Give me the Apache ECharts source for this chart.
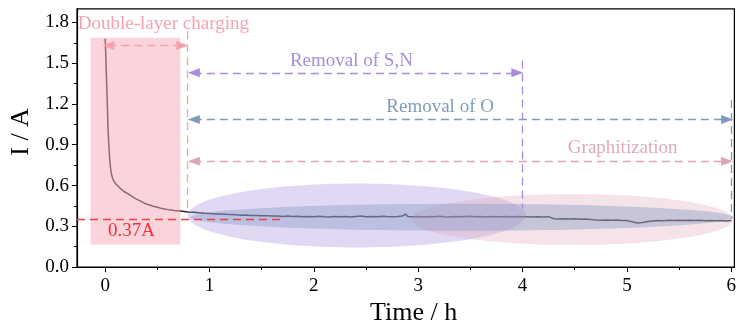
<!DOCTYPE html>
<html>
<head>
<meta charset="utf-8">
<script src="https://cdn.jsdelivr.net/npm/echarts@6/dist/echarts.min.js"></script>
<style>
  html, body { margin: 0; padding: 0; background: #fff; }
  #chart { width: 739px; height: 331px; }
</style>
</head>
<body>
<div id="chart"></div>
<script>
// current vs time
const timeH = [
  0.000, 0.005, 0.010, 0.015, 0.020, 0.026, 0.033, 0.042, 0.050, 0.058,
  0.070, 0.085, 0.100, 0.120, 0.150, 0.180, 0.216, 0.260, 0.300, 0.340,
  0.376, 0.420, 0.460, 0.500, 0.535, 0.580, 0.620, 0.660, 0.694, 0.740,
  0.790, 0.85, 0.90, 0.95, 1.00, 1.05, 1.10, 1.15, 1.20, 1.25,
  1.30, 1.35, 1.40, 1.45, 1.50, 1.55, 1.60, 1.65, 1.70, 1.75,
  1.80, 1.85, 1.90, 1.95, 2.00, 2.05, 2.10, 2.15, 2.20, 2.25,
  2.30, 2.35, 2.40, 2.45, 2.50, 2.55, 2.60, 2.65, 2.70, 2.75,
  2.80, 2.85, 2.88, 2.90, 2.95, 3.00, 3.05, 3.10, 3.15, 3.20,
  3.25, 3.30, 3.35, 3.40, 3.45, 3.50, 3.55, 3.60, 3.65, 3.70,
  3.75, 3.80, 3.85, 3.90, 3.95, 4.00, 4.05, 4.10, 4.15, 4.20,
  4.25, 4.30, 4.35, 4.40, 4.45, 4.50, 4.55, 4.60, 4.65, 4.70,
  4.75, 4.80, 4.85, 4.90, 4.95, 5.00, 5.05, 5.10, 5.15, 5.20,
  5.25, 5.30, 5.35, 5.40, 5.45, 5.50, 5.55, 5.60, 5.65, 5.70,
  5.75, 5.80, 5.85, 5.90, 5.95, 6.00
];
const currentA = [
  1.680, 1.580, 1.450, 1.330, 1.220, 1.050, 0.930, 0.810, 0.740, 0.690,
  0.655, 0.630, 0.613, 0.598, 0.575, 0.556, 0.540, 0.518, 0.500, 0.485,
  0.470, 0.458, 0.448, 0.440, 0.433, 0.426, 0.421, 0.417, 0.414, 0.410,
  0.405, 0.403, 0.399, 0.396, 0.394, 0.391, 0.390, 0.388, 0.386, 0.385,
  0.382, 0.383, 0.380, 0.379, 0.377, 0.378, 0.375, 0.376, 0.373, 0.375,
  0.372, 0.374, 0.371, 0.373, 0.370, 0.374, 0.371, 0.369, 0.373, 0.370,
  0.372, 0.369, 0.372, 0.375, 0.371, 0.373, 0.370, 0.374, 0.372, 0.371,
  0.373, 0.376, 0.390, 0.372, 0.370, 0.373, 0.369, 0.372, 0.370, 0.374,
  0.371, 0.369, 0.373, 0.370, 0.372, 0.374, 0.370, 0.372, 0.369, 0.373,
  0.371, 0.370, 0.373, 0.369, 0.372, 0.370, 0.371, 0.368, 0.370, 0.369,
  0.371, 0.356, 0.354, 0.356, 0.353, 0.355, 0.352, 0.354, 0.351, 0.347,
  0.345, 0.347, 0.344, 0.346, 0.343, 0.342, 0.333, 0.325, 0.328, 0.335,
  0.339, 0.343, 0.341, 0.344, 0.342, 0.345, 0.343, 0.345, 0.342, 0.344,
  0.341, 0.343, 0.341, 0.343, 0.340, 0.342
];

const xTicks = [0, 1, 2, 3, 4, 5, 6];
const xMinorTicks = [0.5, 1.5, 2.5, 3.5, 4.5, 5.5];
const yTicks = [0, 0.3, 0.6, 0.9, 1.2, 1.5, 1.8];
const yMinorTicks = [0.15, 0.45, 0.75, 1.05, 1.35, 1.65];

// annotation geometry, in data units
const chargeBox = [[-0.14, 0.167, 0.72, 1.687]];
const stageEllipses = [
  [2.41, 0.38, 1.62, 0.235],
  [4.48, 0.35, 1.54, 0.187],
  [3.42, 0.367, 2.6, 0.099]
];
const ellipseColors = ['rgba(172,148,222,0.36)', 'rgba(222,168,182,0.32)', 'rgba(118,146,190,0.36)'];

const noteTexts = ['Double-layer charging', 'Removal of S,N', 'Removal of O', 'Graphitization', '0.37A'];
const notePositions = [[-0.262, 1.79], [2.36, 1.517], [3.21, 1.18], [4.96, 0.875], [0.252, 0.268]];
const noteColors = ['#f6a3b1', '#a78bdd', '#7f9cb9', '#dcabb9', '#e8353f'];
const noteAligns = ['left', 'center', 'center', 'center', 'center'];

const serif = 'Liberation Serif';
const arrowSize = [9, 12];
const chart = echarts.init(document.getElementById('chart'));

function arrow(x0, x1, y, color) {
  return [
    {
      coord: [x0, y],
      symbol: 'triangle',
      symbolSize: arrowSize,
      lineStyle: { color: color, type: [8, 5], width: 1.3 },
      itemStyle: { color: color }
    },
    { coord: [x1, y], symbol: 'triangle', symbolSize: arrowSize }
  ];
}
function vline(x, y0, y1, color) {
  return [
    { coord: [x, y0], symbol: 'none', lineStyle: { color: color, type: [8, 5], width: 1.3 } },
    { coord: [x, y1], symbol: 'none' }
  ];
}

chart.setOption({
  animation: false,
  grid: {
    left: 77,
    right: 2.4,
    top: 8.8,
    bottom: 53,
    show: true,
    borderColor: '#000',
    borderWidth: 1.2
  },
  xAxis: [
    {
      type: 'value',
      min: -0.27,
      max: 6.03,
      name: 'Time / h',
      nameLocation: 'middle',
      nameGap: 22,
      nameTextStyle: { fontFamily: serif, fontSize: 26, color: '#000', padding: [0, 0, 0, 16] },
      axisLine: { show: true, onZero: false, lineStyle: { color: '#000', width: 1.2 } },
      axisTick: { show: true, length: 5, customValues: xTicks, lineStyle: { color: '#000' } },
      axisLabel: { customValues: xTicks, fontFamily: serif, fontSize: 19, color: '#000', margin: 9 },
      splitLine: { show: false }
    },
    {
      type: 'value',
      min: -0.27,
      max: 6.03,
      position: 'bottom',
      axisLine: { show: false, onZero: false },
      axisTick: { show: true, length: 3, customValues: xMinorTicks, lineStyle: { color: '#000' } },
      axisLabel: { show: false },
      splitLine: { show: false }
    }
  ],
  yAxis: [
    {
      type: 'value',
      min: 0,
      max: 1.9,
      name: 'I / A',
      nameLocation: 'middle',
      nameGap: 40,
      nameRotate: 90,
      nameTextStyle: { fontFamily: serif, fontSize: 26, color: '#000', padding: [0, 0, 0, 12] },
      axisLine: { show: true, onZero: false, lineStyle: { color: '#000', width: 1.2 } },
      axisTick: { show: true, length: 5, customValues: yTicks, lineStyle: { color: '#000' } },
      axisLabel: {
        customValues: yTicks,
        formatter: (v) => v.toFixed(1),
        fontFamily: serif,
        fontSize: 19,
        color: '#000',
        margin: 8
      },
      splitLine: { show: false }
    },
    {
      type: 'value',
      min: 0,
      max: 1.9,
      position: 'left',
      axisLine: { show: false, onZero: false },
      axisTick: { show: true, length: 3, customValues: yMinorTicks, lineStyle: { color: '#000' } },
      axisLabel: { show: false },
      splitLine: { show: false }
    }
  ],
  series: [
    {
      name: 'current',
      type: 'line',
      data: timeH.map((t, i) => [t, currentA[i]]),
      showSymbol: false,
      lineStyle: { color: '#2a2a2a', width: 1.5 },
      z: 2
    },
    {
      name: 'charging box',
      type: 'custom',
      data: chargeBox,
      encode: { x: [0, 2], y: [1, 3] },
      z: 3,
      renderItem: (params, api) => {
        const p0 = api.coord([api.value(0), api.value(3)]);
        const p1 = api.coord([api.value(2), api.value(1)]);
        return {
          type: 'rect',
          shape: { x: p0[0], y: p0[1], width: p1[0] - p0[0], height: p1[1] - p0[1] },
          style: { fill: 'rgba(248,168,182,0.5)' }
        };
      }
    },
    {
      name: 'stages',
      type: 'custom',
      data: stageEllipses,
      encode: { x: 0, y: 1 },
      z: 3,
      renderItem: (params, api) => {
        const c = api.coord([api.value(0), api.value(1)]);
        const s = api.size([api.value(2), api.value(3)]);
        return {
          type: 'ellipse',
          shape: { cx: c[0], cy: c[1], rx: s[0], ry: s[1] },
          style: { fill: ellipseColors[params.dataIndex] }
        };
      }
    },
    {
      name: 'guides',
      type: 'line',
      data: [],
      z: 4,
      markLine: {
        silent: true,
        symbolSize: arrowSize,
        label: { show: false },
        data: [
          arrow(0.03, 0.74, 1.630, '#f7a0ae'),
          arrow(0.85, 3.95, 1.429, '#a98be0'),
          arrow(0.85, 5.96, 1.085, '#7f9bbb'),
          arrow(0.85, 5.96, 0.778, '#dba6b6'),
          vline(0.79, 1.735, 0.40, '#f7a0ae'),
          vline(4.0, 1.52, 0.43, '#a98be0'),
          vline(6.0, 1.23, 0.36, '#7f9bbb'),
          [
            { coord: [-0.27, 0.355], symbol: 'none', lineStyle: { color: '#e8424f', type: [8, 5], width: 1.3 } },
            { coord: [1.68, 0.355], symbol: 'none' }
          ]
        ]
      }
    },
    {
      name: 'notes',
      type: 'custom',
      data: notePositions,
      encode: { x: 0, y: 1 },
      z: 5,
      renderItem: (params, api) => {
        const p = api.coord([api.value(0), api.value(1)]);
        const i = params.dataIndex;
        return {
          type: 'text',
          x: p[0],
          y: p[1],
          style: {
            text: noteTexts[i],
            fill: noteColors[i],
            fontFamily: serif,
            fontSize: 19,
            align: noteAligns[i],
            verticalAlign: 'middle'
          }
        };
      }
    }
  ]
});
</script>
</body>
</html>
